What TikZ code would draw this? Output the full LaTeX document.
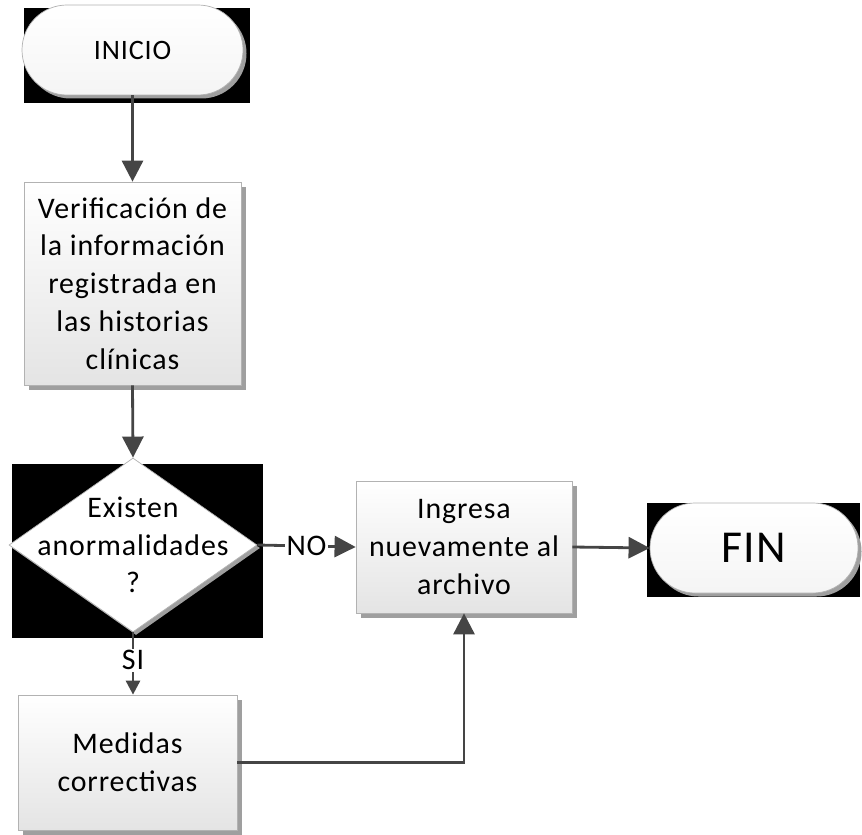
\documentclass[tikz,border=0pt]{standalone}
\usepackage{fontspec}
\setmainfont[LetterSpace=3]{Carlito}
\usetikzlibrary{arrows.meta,shapes.geometric,shadows}

\definecolor{linegray}{HTML}{454545}
\definecolor{boxgray}{HTML}{E4E4E4}

\tikzset{
  flow/.style={draw=linegray, line width=1.6pt, -{Triangle[width=12pt,length=12pt]}},
  proc/.style={rectangle, draw=gray!60, thin, top color=white, bottom color=boxgray,
    align=center, font=\fontsize{17}{21.5}\selectfont, inner sep=2pt,
    drop shadow={shadow xshift=0.1cm, shadow yshift=-0.1cm, fill=gray!75, opacity=1}},
  term/.style={rectangle, rounded corners=0.9cm, draw=gray!60, thin, top color=white,
    bottom color=gray!8, minimum height=1.8cm,
    drop shadow={shadow xshift=0.07cm, shadow yshift=-0.07cm, fill=gray!75, opacity=1}},
  tag/.style={fill=white, inner sep=1pt, font=\fontsize{17}{20}\selectfont}
}

\begin{document}
\begin{tikzpicture}

\useasboundingbox (0, 0) rectangle (17.24, 16.68);

\fill[black] (0.48, 16.52) rectangle (5.0, 14.62);
\fill[black] (0.24, 7.40) rectangle (5.26, 3.92);
\fill[black] (12.94, 6.62) rectangle (17.2, 4.74);

\node[term, minimum width=4.42cm, font=\fontsize{16}{20}\selectfont] (inicio) at (2.65, 15.68) {INICIO};
\node[proc, minimum width=4.34cm, minimum height=4.06cm] (verifica) at (2.65, 11.01) {Verificación de\\la información\\registrada en\\las historias\\clínicas};
\node[diamond, draw=gray!60, thin, fill=white, minimum width=4.96cm, minimum height=3.48cm, inner sep=0pt,
  drop shadow={shadow xshift=0.06cm, shadow yshift=-0.06cm, fill=gray!75, opacity=1}] (anormal) at (2.66, 5.78) {};
\node[align=center, font=\fontsize{17}{21.5}\selectfont] (anormaltxt) at (anormal) {Existen\\anormalidades\\?};
\node[proc, minimum width=4.32cm, minimum height=2.64cm] (ingresa) at (9.28, 5.74) {Ingresa\\nuevamente al\\archivo};
\node[term, minimum width=4.16cm, font=\fontsize{26}{30}\selectfont] (fin) at (15.08, 5.72) {FIN};
\node[proc, minimum width=4.38cm, minimum height=2.7cm] (medidas) at (2.55, 1.43) {Medidas\\correctivas};

\draw[flow] (inicio.south) -- (verifica.north);
\draw[flow] (verifica.south) -- (anormal.north);
\draw[flow] (anormal.east) -- node[tag] (no) {NO} (ingresa.west);
\draw[flow] (ingresa.east) -- (fin.west);
\draw[flow, -{Triangle[width=8pt,length=8pt]}] (anormal.south) -- node[tag, pos=0.45] (si) {SI} (anormal.south |- medidas.north);
\draw[flow] (medidas.east) -| (ingresa.south);

\end{tikzpicture}
\end{document}
